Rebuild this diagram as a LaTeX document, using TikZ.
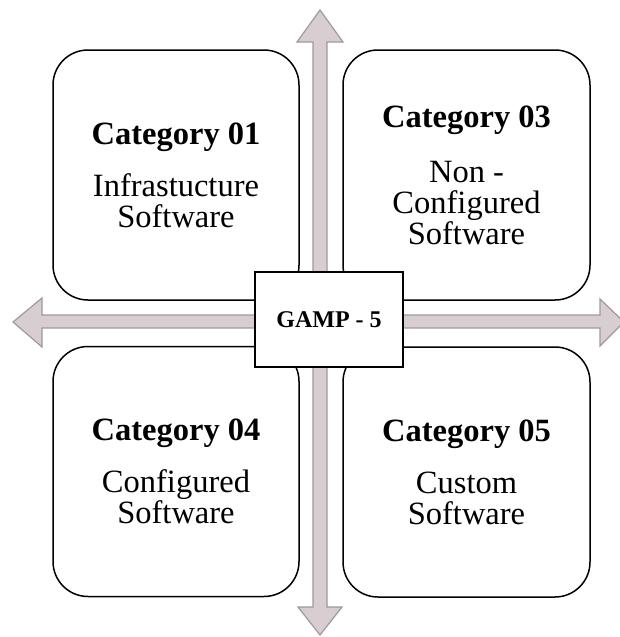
\documentclass[tikz,border=0pt]{standalone}
\usepackage{fontspec}
\setmainfont{Liberation Serif}
\definecolor{arrowfill}{RGB}{216,206,210}
\definecolor{arrowline}{RGB}{160,152,156}
\begin{document}
\begin{tikzpicture}[x=1pt,y=-1pt,
  catbox/.style={draw=black, line width=1.5pt, rounded corners=35pt, fill=white,
    minimum width=246pt, minimum height=250pt, inner sep=0pt, align=center,
    font=\fontsize{32.5}{31}\selectfont},
  gampbox/.style={draw=black, line width=1.5pt, fill=white, minimum width=148pt,
    minimum height=95pt, inner sep=0pt, font=\fontsize{24}{28}\selectfont\bfseries},
  axisarrow/.style={fill=arrowfill, draw=arrowline, line width=1.2pt, line join=miter}]
\useasboundingbox (0,0) rectangle (619,637);
% axes
\coordinate (N) at (320,10);
\coordinate (S) at (320,635);
\coordinate (W) at (13,322);
\coordinate (E) at (624,322);
\filldraw[axisarrow] (N) -- (343,42) -- (327,42) -- (327,607) -- (342,607) -- (S)
  -- (298,607) -- (313,607) -- (313,42) -- (297,42) -- cycle;
\filldraw[axisarrow] (W) -- (42,298) -- (42,315) -- (600,315) -- (600,299) -- (E)
  -- (600,346) -- (600,328) -- (42,328) -- (42,347) -- cycle;
% category boxes
\node[catbox] (c01) at (176,175) {{\bfseries Category 01}\\[21pt]Infrastucture\\Software};
\node[catbox, minimum width=247pt] (c03) at (466.5,175) {{\bfseries Category 03}\\[24pt]Non -\\Configured\\Software};
\node[catbox] (c04) at (176,471.5) {{\bfseries Category 04}\\[21pt]Configured\\Software};
\node[catbox, minimum width=247pt] (c05) at (466.5,472) {{\bfseries Category 05}\\[21pt]Custom\\Software};
% centre
\node[gampbox] (gamp) at (329,319.5) {GAMP - 5};
\end{tikzpicture}
\end{document}
